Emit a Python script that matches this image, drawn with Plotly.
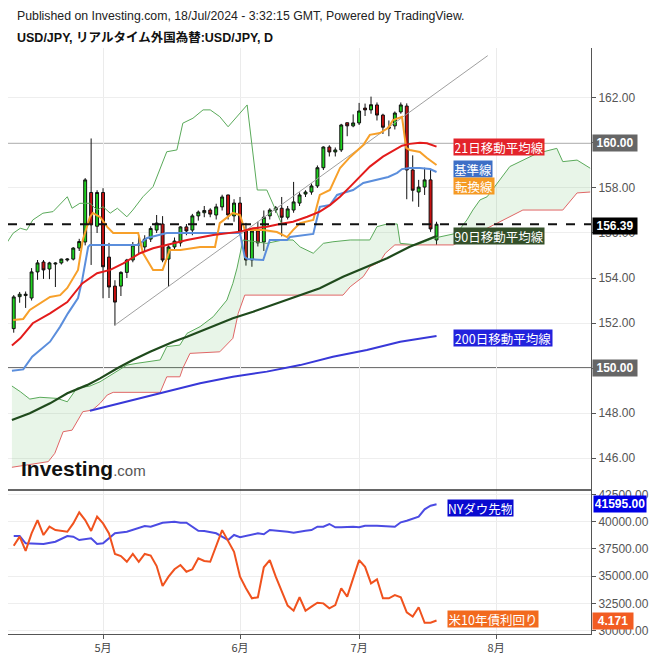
import plotly.graph_objects as go

# ---------------- DATA (bar index 0 = 2024-04-10, one bar per trading day) ----------------
bar_idx = list(range(72))
opens = [151.75,153.17,153.22,153.11,154.27,154.71,154.4,154.62,154.67,154.8,
         154.84,155.33,155.6,157.8,156.3,157.8,154.93,153.64,153.64,154.25,
         154.8,155.47,155.38,155.73,156.13,156.4,154.84,155.38,155.56,156.27,
         156.13,156.76,156.9,157.02,156.8,157.16,157.69,156.76,157.33,156.13,
         154.8,156.09,155.6,156.76,157.02,157.1,156.7,157.02,157.33,157.73,
         157.82,158.09,158.9,159.82,159.6,159.69,160.9,160.76,160.89,161.55,
         161.47,161.69,161.24,160.7,160.76,161.38,161.64,158.8,157.82,158.04,
         158.36,155.69]
highs = [153.24,153.38,153.4,154.44,154.8,154.8,154.72,154.7,154.86,154.88,
         155.37,155.74,158.44,160.2,157.9,157.99,155.56,153.9,154.3,154.85,
         155.6,155.9,155.9,156.3,156.8,156.75,155.45,155.8,156.3,156.4,
         156.85,157.0,157.2,157.1,157.3,157.7,157.7,157.5,157.6,156.45,
         156.2,156.5,157.0,157.1,157.2,157.6,157.2,158.27,157.8,157.9,
         158.2,159.0,159.85,159.9,159.8,160.85,160.9,161.27,161.78,161.75,
         162.06,161.8,161.3,161.0,161.4,161.8,161.76,159.45,158.36,158.9,
         158.86,156.5]
lows = [151.57,152.9,152.67,153.0,153.92,153.96,153.95,153.6,154.6,154.73,
        154.78,155.2,155.45,154.58,156.0,153.1,153.11,151.89,153.2,154.0,
        154.7,155.1,155.2,155.6,156.0,154.7,153.6,155.2,155.4,155.9,
        155.9,156.55,156.7,156.7,156.6,157.0,156.6,156.5,155.9,154.55,
        154.5,155.4,155.2,156.6,156.9,155.85,156.6,156.9,157.2,157.6,
        157.7,158.0,158.8,159.4,159.4,159.6,160.3,160.7,160.8,161.2,
        161.3,161.0,160.4,160.3,160.6,161.3,157.5,157.4,157.16,157.69,
        156.05,155.47]
closes = [153.16,153.28,153.28,154.27,154.67,154.36,154.67,154.66,154.84,154.84,
          155.33,155.62,158.36,156.36,157.8,154.5,153.6,152.93,154.25,154.8,
          155.47,155.5,155.73,156.2,156.44,154.8,155.38,155.64,156.27,156.09,
          156.76,156.93,157.0,156.84,157.16,157.6,156.8,157.33,156.04,154.8,
          156.09,155.56,156.7,157.02,157.12,156.7,157.07,157.38,157.69,157.82,
          158.09,158.9,159.82,159.6,159.69,160.8,160.76,160.89,161.42,161.47,
          161.7,161.24,160.7,160.66,161.33,161.69,158.8,157.9,158.04,158.36,
          156.18,156.39]

# 転換線 (Tenkan)
tenkan_x = [-0.1,1.6,2.7,4.9,6.1,7.8,9.0,10.8,11.6,12.8,13.3,14.5,15.7,16.7,20.9,21.7,23.4,25.0,26.2,28.0,
            31.3,33.8,34.6,36.8,38.0,38.8,41.9,44.2,45.9,46.9,48.1,50.3,51.4,53.1,54.8,56.5,58.7,59.8,61.5,62.9,
            63.7,65.2,65.9,66.5,68.2,69.4,71.0]
tenkan_y = [152.13,152.18,152.58,152.93,153.16,153.24,153.56,154.36,155.69,156.71,156.89,156.71,156.27,156.0,156.0,155.11,154.36,154.36,155.24,155.24,
            155.38,155.38,156.44,156.89,156.8,156.13,156.13,156.04,155.82,156.13,156.44,156.58,157.69,157.91,158.89,159.38,159.91,160.36,160.44,160.67,
            161.02,161.16,159.78,159.69,159.6,159.33,159.02]
# 基準線 (Kijun)
kijun_x = [-0.3,1.6,3.1,4.4,6.1,7.8,9.1,10.8,11.5,12.5,12.8,20.9,22.4,25.7,38.0,38.8,39.3,41.9,43.0,45.9,
           46.4,50.3,51.4,53.1,54.3,55.3,57.0,58.7,61.0,62.9,64.4,65.2,66.5,68.2,69.9,71.0]
kijun_y = [149.88,149.94,150.5,150.8,151.17,151.84,152.43,153.11,153.91,155.38,155.47,155.47,155.78,156.0,156.0,154.93,154.84,154.8,155.69,155.69,
           155.82,155.96,157.16,157.24,157.69,157.78,157.91,158.22,158.36,158.49,158.67,158.84,158.89,158.89,158.84,158.71]
# 21日移動平均線
sma21_x = [-0.3,1.1,3.2,6.1,9.0,11.5,14.0,16.2,18.4,21.2,23.4,25.7,29.1,33.5,38.0,40.2,42.5,44.7,46.9,49.3,
           51.4,53.1,54.8,56.5,58.2,59.8,62.0,64.4,65.2,66.5,68.2,69.4,71.0]
sma21_y = [151.0,151.32,151.99,152.43,152.93,153.76,154.21,154.36,154.65,155.1,155.32,155.47,155.69,155.91,156.06,156.21,156.28,156.4,156.5,156.72,
           156.95,157.24,157.61,158.06,158.5,158.95,159.39,159.76,159.88,159.96,160.01,159.99,159.84]
# 90日移動平均線
sma90_x = [-0.3,2.7,6.1,9.0,12.3,14.5,17.4,20.0,22.9,26.8,29.1,32.5,36.8,40.2,44.2,48.1,51.4,55.3,59.3,62.7,66.5,69.4,71.0]
sma90_y = [147.69,147.99,148.43,148.88,149.24,149.54,149.99,150.36,150.72,151.17,151.39,151.76,152.21,152.5,152.88,153.24,153.54,154.06,154.5,154.88,155.39,155.72,155.87]
# 200日移動平均線
sma200_x = [12.8,14.5,20.0,25.7,31.3,36.8,42.5,48.1,53.6,59.3,64.9,71.0]
sma200_y = [148.1,148.21,148.58,148.95,149.32,149.61,149.84,150.13,150.5,150.8,151.17,151.42]
# 遅行スパン
chikou_x = [-2.3,-0.1,1.1,2.2,3.2,4.9,6.6,9.0,9.8,11.1,12.8,14.0,15.0,16.2,17.4,19.0,20.0,21.7,23.4,25.7,
            27.4,28.4,30.1,31.8,33.0,34.6,36.0,39.2,40.9,42.5,44.2,45.0]
chikou_y = [155.1,155.99,156.21,156.13,156.58,156.88,156.95,157.61,157.1,157.32,157.32,157.02,157.17,156.88,157.1,156.72,157.02,157.61,158.06,159.61,
            159.69,160.88,161.1,161.47,161.47,161.17,160.72,161.69,157.91,157.91,156.89,156.4]
# 先行スパン1 / 2
spanA_x = [-0.3,1.1,2.7,4.4,7.3,9.0,10.6,12.8,14.5,16.7,19.0,20.7,24.6,25.7,27.9,29.1,31.3,33.5,35.8,36.8,
           37.5,38.5,42.5,45.2,46.9,48.1,50.3,52.0,53.6,56.5,59.8,61.0,62.7,64.4,64.9,66.5,67.7,70.4,72.1,74.4,
           76.1,77.1,78.3,79.5,83.3,87.9,91.2,92.2,94.6,96.8]
spanA_y = [149.2,148.95,148.62,148.7,148.65,148.5,149.1,149.2,149.39,149.76,150.13,150.21,150.36,150.95,151.02,151.54,151.84,152.28,153.02,153.76,
           154.44,155.69,155.54,155.69,155.69,155.38,155.1,155.54,155.61,155.69,155.69,156.28,156.4,156.4,155.54,155.5,155.47,155.76,155.87,155.99,
           156.58,157.02,157.47,157.61,158.95,159.54,159.76,159.17,159.24,158.88]
spanB_x = [-0.3,5.8,6.9,8.3,9.8,11.6,13.2,14.5,15.7,16.7,24.6,25.1,25.7,27.9,28.4,29.6,34.6,36.8,37.7,38.8,
           55.3,56.5,58.7,59.8,61.5,62.4,63.7,64.0,73.8,76.6,81.2,83.3,85.5,92.2,94.6,96.8]
spanB_y = [145.59,145.84,146.21,147.17,147.24,148.06,148.13,148.43,148.8,148.92,148.92,149.24,149.61,149.61,149.99,150.65,150.72,151.32,152.43,153.24,
           153.24,153.61,154.06,154.5,154.72,155.1,155.39,155.47,155.47,155.82,156.44,156.71,157.02,157.02,157.78,157.82]
# trend line (bar index, price)
trend_x = [16.9, 79.6]
trend_y = [151.89, 163.88]
level_lines = [160.0, 150.0]

# lower pane: NY Dow futures and US 10y yield
dow_x = [0,1,2,4,5,7,9,10,11,13,14,15,16,17,19,22,23,25,27,28,29,31,32,34,36,37,38,40,41,42,
         43,46,47,49,50,51,52,53,54,55,57,58,59,61,64,65,66,68,69,70,71]
dow_y = [38686,38686,38015,38015,37951,38163,38686,38622,38318,38475,37951,38015,38475,38934,39081,39605,39541,39909,40000,39909,
         39909,39173,39146,38934,38318,38778,38567,38778,38934,38842,39237,39081,38990,39173,39237,39541,39541,39789,39486,39486,
         39541,39486,39633,39633,39541,39945,40092,40460,41140,41471,41595]
yld_x = [0,1,2,3,4,5,6,7,9,10,11,12,13,14,15,16,17,18,19,20,21,22,23,24,25,26,27,28,29,30,31,32,33,
         35,37,38,39,40,41,42,43,44,46,47,48,49,50,51,52,53,54,55,56,58,59,60,61,62,63,64,65,66,67,68,69,70,71]
yld_y = [4.537,4.582,4.512,4.598,4.663,4.59,4.631,4.614,4.606,4.647,4.701,4.663,4.61,4.68,4.647,4.598,4.497,4.487,4.459,4.497,
         4.459,4.497,4.489,4.438,4.34,4.386,4.422,4.443,4.41,4.422,4.476,4.463,4.459,4.614,4.508,4.386,4.329,4.28,4.285,4.432,
         4.467,4.386,4.244,4.219,4.285,4.219,4.239,4.258,4.255,4.231,4.247,4.329,4.288,4.467,4.434,4.353,4.373,4.28,4.28,4.296,
         4.285,4.211,4.19,4.236,4.16,4.16,4.171]

month_pos = [15, 38, 58, 81]
month_labels = ["5月", "6月", "7月", "8月"]
price_ticks = [146, 148, 150, 152, 154, 156, 158, 160, 162]
dow_ticks = [30000, 32500, 35000, 37500, 40000, 42500]

# tick texts: levels that carry a value tag show only the tag (as in the reference)
price_ticktext = ["" if t in level_lines else "%.2f" % t for t in price_ticks]

# ---------------- LAYOUT HELPERS ----------------
W, H = 656, 656
ML, MR, MT, MB = 8, 65, 48, 22
PW, PH = W - ML - MR, H - MT - MB
def pxx(p): return (p - ML) / PW
def pxy(p): return (H - MB - p) / PH
split = pxy(490)

JP = "Noto Sans CJK JP"
LAT = "Liberation Sans"

fig = go.Figure()

# cloud
fig.add_trace(go.Scatter(x=spanA_x + spanB_x[::-1], y=spanA_y + spanB_y[::-1], fill="toself",
                         fillcolor="rgba(76,175,80,0.13)", line=dict(width=0), mode="lines",
                         xaxis="x", yaxis="y", hoverinfo="skip"))
fig.add_trace(go.Scatter(x=spanB_x, y=spanB_y, mode="lines", line=dict(color="#E06666", width=1), xaxis="x", yaxis="y"))
fig.add_trace(go.Scatter(x=spanA_x, y=spanA_y, mode="lines", line=dict(color="#5AAA5A", width=1), xaxis="x", yaxis="y"))
fig.add_trace(go.Scatter(x=chikou_x, y=chikou_y, mode="lines", line=dict(color="#5AAA5A", width=1), xaxis="x", yaxis="y"))
fig.add_trace(go.Scatter(x=trend_x, y=trend_y, mode="lines", line=dict(color="#A0A0A0", width=1), xaxis="x", yaxis="y"))
fig.add_trace(go.Scatter(x=sma200_x, y=sma200_y, mode="lines", line=dict(color="#3838D8", width=2), xaxis="x", yaxis="y"))
fig.add_trace(go.Scatter(x=sma90_x, y=sma90_y, mode="lines", line=dict(color="#1F4A1C", width=2.2), xaxis="x", yaxis="y"))
fig.add_trace(go.Scatter(x=kijun_x, y=kijun_y, mode="lines", line=dict(color="#5B8EDC", width=2), xaxis="x", yaxis="y"))
fig.add_trace(go.Scatter(x=tenkan_x, y=tenkan_y, mode="lines", line=dict(color="#F7A02A", width=2), xaxis="x", yaxis="y"))
fig.add_trace(go.Scatter(x=sma21_x, y=sma21_y, mode="lines", line=dict(color="#E31B1B", width=2), xaxis="x", yaxis="y"))

fig.add_trace(go.Candlestick(x=bar_idx, open=opens, high=highs, low=lows, close=closes,
                             increasing=dict(fillcolor="#1ED21E", line=dict(color="#111111", width=1)),
                             decreasing=dict(fillcolor="#C81010", line=dict(color="#111111", width=1)),
                             whiskerwidth=0, xaxis="x", yaxis="y"))

# lower pane
fig.add_trace(go.Scatter(x=dow_x, y=dow_y, mode="lines", line=dict(color="#4B4BE3", width=2), xaxis="x", yaxis="y2"))
fig.add_trace(go.Scatter(x=yld_x, y=yld_y, mode="lines", line=dict(color="#F0521E", width=2), xaxis="x", yaxis="y3"))

# level lines
for lv, col in zip(level_lines, ["#7A7A7A", "#444444"]):
    fig.add_shape(type="line", xref="paper", x0=0, x1=1, yref="y", y0=lv, y1=lv,
                  line=dict(color=col, width=1.3), layer="below")
fig.add_shape(type="line", xref="paper", x0=0, x1=1, yref="y", y0=closes[-1], y1=closes[-1],
              line=dict(color="#111111", width=2, dash="dash"), layer="above")
# pane divider
fig.add_shape(type="line", xref="paper", x0=0, x1=1, yref="paper", y0=split, y1=split,
              line=dict(color="#333333", width=1.5))

ann = []
def box(text, xpx, ypx, bg, w, h=14, size=12.5, family=JP, xanchor="left"):
    ann.append(dict(text=text, xref="paper", yref="paper", x=pxx(xpx), y=pxy(ypx),
                    xanchor=xanchor, yanchor="middle", showarrow=False, bgcolor=bg,
                    font=dict(color="white", size=size, family=family), width=w, height=h,
                    borderpad=1, align="center"))

box("21日移動平均線", 453, 147, "#E3242B", 88)
box("基準線", 453, 169, "#3D6FC6", 36)
box("転換線", 453, 185.5, "#F59A23", 38)
box("90日移動平均線", 453, 236.5, "#34502A", 88)
box("200日移動平均線", 453, 338, "#2222DD", 96)
box("NYダウ先物", 447, 508, "#0A0AD0", 63)
box("米10年債利回り", 447, 619, "#F26A1E", 88)

# right-axis value tags
box("<b>%.2f</b>" % level_lines[0], 592, 143, "#666666", 42, size=12, family=LAT)
box("<b>%.2f</b>" % closes[-1], 592, 225.5, "#000000", 42, size=12, family=LAT)
box("<b>%.2f</b>" % level_lines[1], 592, 368, "#666666", 42, size=12, family=LAT)
box("<b>%.2f</b>" % dow_y[-1], 593, 503.5, "#0000E6", 50, size=12, family=LAT)
box("<b>%.3f</b>" % yld_y[-1], 592, 621, "#F25C22", 38, size=12, family=LAT)

# header
ann.append(dict(text="Published on Investing.com, 18/Jul/2024 - 3:32:15 GMT, Powered by TradingView.",
                xref="paper", yref="paper", x=pxx(15), y=pxy(16), xanchor="left", yanchor="middle",
                showarrow=False, font=dict(family=LAT, size=12.3, color="#222222")))
ann.append(dict(text="<b>USD/JPY, リアルタイム外国為替:USD/JPY, D</b>",
                xref="paper", yref="paper", x=pxx(15), y=pxy(37), xanchor="left", yanchor="middle",
                showarrow=False, font=dict(family=LAT + ", " + JP, size=12.5, color="#111111")))
# logo
ann.append(dict(text="<b>Investing</b><span style='font-size:15px;color:#555555'>.com</span>",
                xref="paper", yref="paper", x=pxx(19), y=pxy(469), xanchor="left", yanchor="middle",
                showarrow=False, font=dict(family=LAT, size=21, color="#111111")))

fig.update_layout(
    width=W, height=H, margin=dict(l=ML, r=MR, t=MT, b=MB, autoexpand=False), autosize=False,
    paper_bgcolor="white", plot_bgcolor="white", showlegend=False,
    annotations=ann,
    xaxis=dict(domain=[0, 1], anchor="y2", range=[-0.96, 96.94], tickmode="array",
               tickvals=month_pos, ticktext=month_labels, showgrid=True, gridcolor="#EBEBEB",
               showline=True, linecolor="#555555", linewidth=1, ticks="outside", ticklen=4,
               tickcolor="#555555", tickfont=dict(family=JP, size=11, color="#444444"),
               rangeslider=dict(visible=False), zeroline=False, automargin=False),
    yaxis=dict(domain=[split, 1], anchor="x", side="right", range=[144.58, 164.22],
               tickmode="array", tickvals=price_ticks, ticktext=price_ticktext, showgrid=True,
               gridcolor="#EEEEEE", showline=True, linecolor="#555555", linewidth=1,
               ticks="outside", ticklen=4, tickcolor="#555555", automargin=False,
               tickfont=dict(family=LAT, size=12, color="#555555"), zeroline=False),
    yaxis2=dict(domain=[0, split], anchor="x", side="right", range=[29680, 42914],
                tickmode="array", tickvals=dow_ticks, tickformat=".2f", showgrid=True,
                gridcolor="#EEEEEE", showline=True, linecolor="#555555", linewidth=1,
                ticks="outside", ticklen=4, tickcolor="#555555", automargin=False,
                tickfont=dict(family=LAT, size=12, color="#555555"), zeroline=False),
    yaxis3=dict(overlaying="y2", range=[4.105, 4.8105], visible=False, anchor="x", automargin=False),
)

fig.write_html("out.html")
